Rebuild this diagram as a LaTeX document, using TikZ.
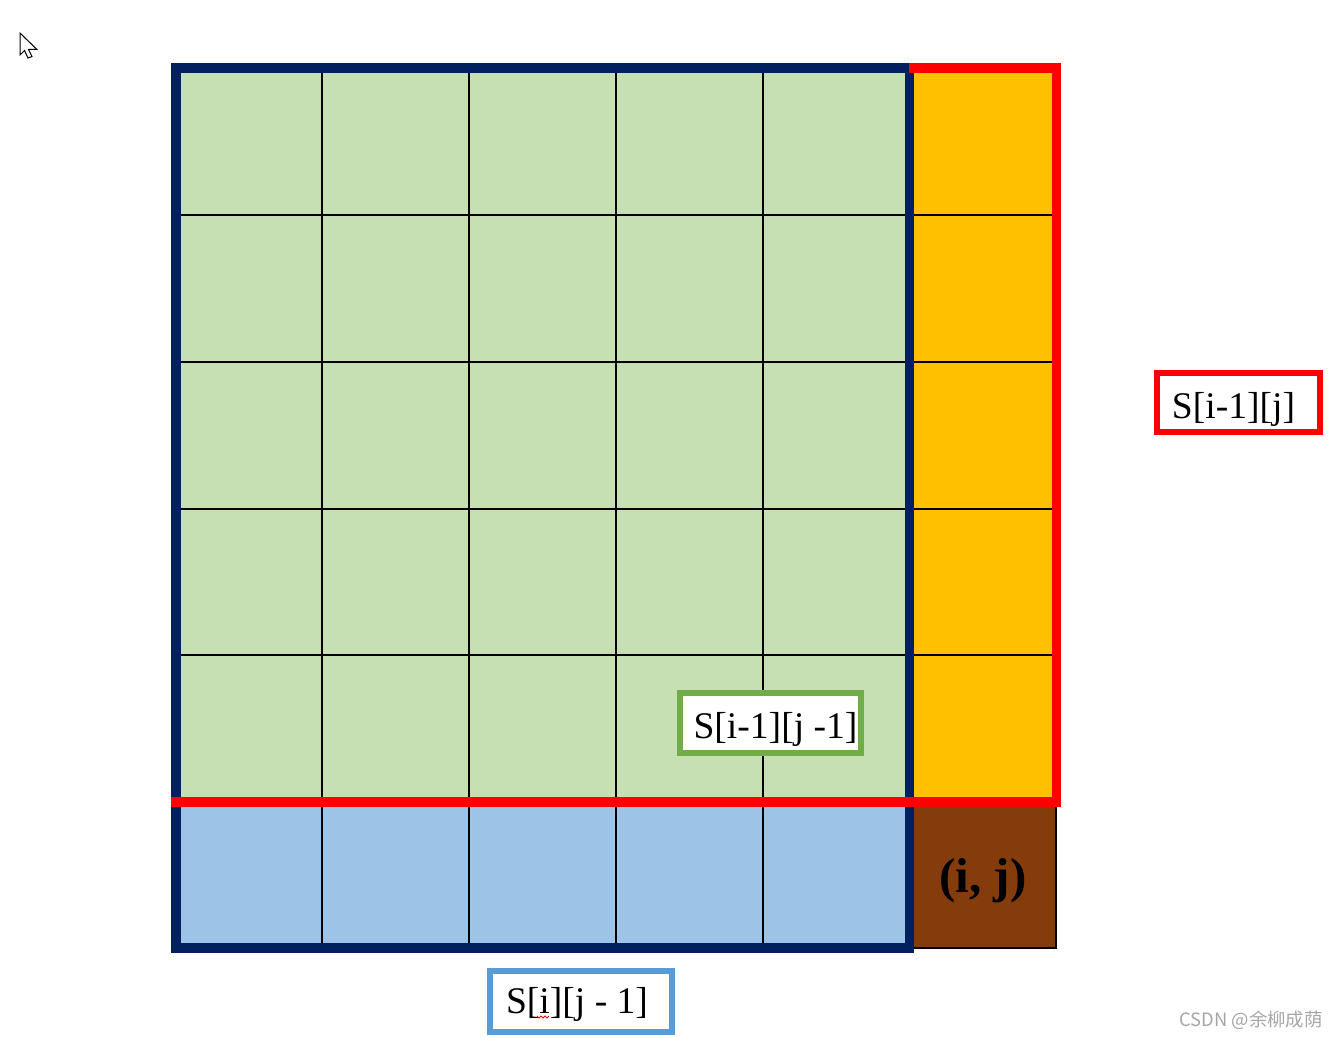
\documentclass[tikz,border=0pt]{standalone}
\usepackage{fontspec}
\setmainfont{Liberation Serif}
\newfontfamily\cjkwm{Noto Sans CJK SC}
\definecolor{cgreen}{HTML}{C6E0B4}
\definecolor{corange}{HTML}{FFC000}
\definecolor{cblue}{HTML}{9DC3E6}
\definecolor{cbrown}{HTML}{843C0C}
\definecolor{cnavy}{HTML}{002060}
\definecolor{cred}{HTML}{FF0000}
\definecolor{cgborder}{HTML}{70AD47}
\definecolor{cbborder}{HTML}{5B9BD5}
\definecolor{cwm}{HTML}{A6A6A6}
\begin{document}
\begin{tikzpicture}[x=0.5pt,y=-0.5pt,
  gridline/.style={line width=0.9pt,black},
  frameline/.style={line width=4.6pt,cnavy},
  redline/.style={line width=4.8pt,cred,line join=miter},
  labelbox/.style={draw,line width=3pt,fill=white,inner sep=0pt,
    text height=15pt,text depth=0pt,
    font=\fontsize{18.8}{20}\selectfont},
]
\useasboundingbox (0,0) rectangle (1340,1038);
% cell fills
\fill[cgreen] (176,68) rectangle (909.5,802);
\fill[corange] (909.5,68) rectangle (1056,802);
\fill[cblue] (176,802) rectangle (909.5,948);
\fill[cbrown] (909.5,802) rectangle (1056,948);
% grid lines
\foreach \x in {322,469,616,763}
  \draw[gridline] (\x,68) -- (\x,948);
\foreach \y in {215,362,509,655}
  \draw[gridline] (176,\y) -- (1056,\y);
\draw[gridline] (909.5,948) -- (1056,948) -- (1056,802);
% navy frame
\draw[frameline] (176,68) rectangle (909.5,948);
% red outline
\draw[redline] (171,802) -- (1056.5,802) -- (1056.5,68) -- (909,68);
% cell label
\node (ij) at (983,881) {\fontsize{24.5}{26}\selectfont\bfseries (i, j)};
% label boxes
\node[labelbox,draw=cgborder,minimum width=90.5pt,minimum height=30pt] (sdiag) at (770.5,723) {\hspace*{5pt}S[i-1][j -1]};
\node[labelbox,draw=cred,minimum width=81.5pt,minimum height=29.5pt,text height=15.5pt] (sup) at (1238.5,402.5) {S[i-1][j]\hspace*{5pt}};
\node[labelbox,draw=cbborder,minimum width=91pt,minimum height=30.5pt,text height=12pt] (sleft) at (581,1001.5) {S[i][j - 1]\hspace*{4pt}};
% spell-check squiggle under i
\draw[cred,line width=0.4pt] (537,1016) -- (539,1018) -- (541,1016) -- (543,1018) -- (545,1016) -- (547,1018) -- (549,1016);
% mouse cursor
\draw[black,fill=white,line width=0.5pt,line join=miter]
  (20,33) -- (20,55) -- (24.5,50.5) -- (28,58) -- (32,56.5) -- (28.5,49.5) -- (37,49.5) -- cycle;
% watermark
\node[anchor=base east,text=cwm,font=\cjkwm\fontsize{9.2}{10}\selectfont,inner sep=0pt] (wm) at (1323,1026) {CSDN @余柳成荫};
\end{tikzpicture}
\end{document}
